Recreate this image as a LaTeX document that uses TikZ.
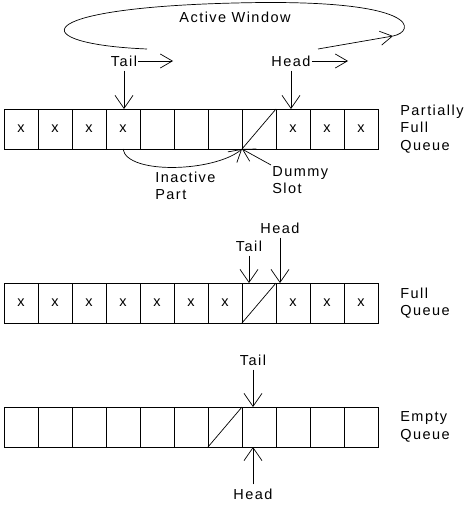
\documentclass[tikz,border=0pt]{standalone}
\usepackage{fontspec}
\usetikzlibrary{arrows.meta}
\newfontfamily\qfont[LetterSpace=10]{Liberation Sans}
\newcommand\qsize{\qfont\fontsize{14.5}{17.5}\selectfont}
\tikzset{
	cell/.style={draw, minimum width=34pt, minimum height=40pt, inner sep=0pt, outer sep=0pt, font=\qsize},
	lbl/.style={font=\qsize, inner sep=1pt, align=left},
	ptr/.style={-{Straight Barb[length=13pt,width=18pt]}, shorten <=3pt},
	mv/.style={-{Straight Barb[length=12pt,width=14pt]}}
}
\begin{document}
\begin{tikzpicture}[x=1pt,y=-1pt,line width=0.7pt]

\useasboundingbox (0,0) rectangle (466,506);

\foreach \i/\t in {1/x,2/x,3/x,4/x,5/{},6/{},7/{},8/{},9/x,10/x,11/x}{
	\node[cell] (p\i) at ({34*\i-13},129) {\t};
}
\draw (p8.south west)--(p8.north east);
\node[lbl, anchor=west] (plab) at (399,129) {Partially\\Full\\Queue};

\node[lbl] (win) at (235,17) {Active Window};
\node[lbl] (tail1) at (124,61) {Tail};
\node[lbl] (head1) at (291,61) {Head};
\coordinate (tailgo) at (173,61);
\coordinate (headgo) at (348,61);
\coordinate (loopa) at (147,49);
\coordinate (loopb) at (318,49);
\coordinate (loopc) at (393,36);
\draw (loopa) .. controls (25,44) and (25,8) .. (235,3) .. controls (425,-2) and (415,32) .. (loopc);
\draw[mv] (loopb)--(loopc);
\draw[mv] (tail1.east)--(tailgo);
\draw[mv] (head1.east)--(headgo);
\draw[ptr] (tail1.south)--(tail1.south |- p4.north);
\draw[ptr] (head1.south)--(head1.south |- p9.north);

\node[lbl, anchor=north west] (inact) at (154,170.5) {Inactive\\Part};
\node[lbl, anchor=north west] (dummy) at (271,165) {Dummy\\Slot};
\draw[mv] (p4.south) .. controls (127,175) and (215,172) .. (p8.south west);
\draw[mv] (dummy.north west)--(p8.south west);

\foreach \i/\t in {1/x,2/x,3/x,4/x,5/x,6/x,7/x,8/{},9/x,10/x,11/x}{
	\node[cell] (f\i) at ({34*\i-13},303) {\t};
}
\draw (f8.south west)--(f8.north east);
\node[lbl, anchor=west] (flab) at (399,303) {Full\\Queue};
\node[lbl] (tail2) at (249,246) {Tail};
\node[lbl] (head2) at (280,228) {Head};
\draw[ptr] (tail2.south)--(tail2.south |- f8.north);
\draw[ptr] (head2.south)--(head2.south |- f9.north);

\foreach \i in {1,...,11}{
	\node[cell] (e\i) at ({34*\i-13},427) {};
}
\draw (e7.south west)--(e7.north east);
\node[lbl, anchor=west] (elab) at (399,427) {Empty\\Queue};
\node[lbl] (tail3) at (253,360) {Tail};
\node[lbl] (head3) at (253,494) {Head};
\draw[ptr] (tail3.south)--(tail3.south |- e8.north);
\draw[ptr] (head3.north)--(head3.north |- e8.south);

\end{tikzpicture}
\end{document}
